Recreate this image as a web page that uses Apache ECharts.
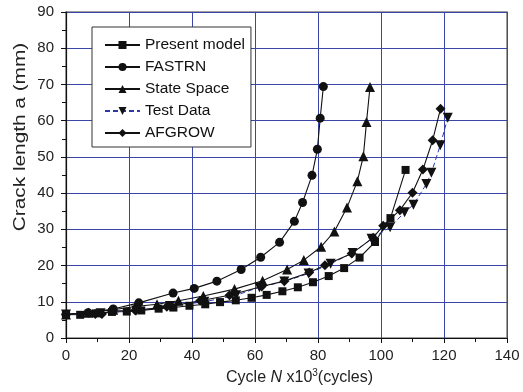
<!DOCTYPE html>
<html><head><meta charset="utf-8">
<script src="https://cdn.jsdelivr.net/npm/echarts@6/dist/echarts.min.js"></script>
<style>html,body{margin:0;padding:0;background:#fff}#c{width:523px;height:392px}</style>
</head><body><div id="c"></div>
<script>
const seriesNames = ['Present model','FASTRN','State Space','Test Data','AFGROW'];
const presentModel = [[0,6.5],[4.5,6.4],[9.5,6.8],[14.6,7.2],[19.3,7.3],[23.9,7.6],[29.4,8.1],[34.1,8.4],[39.2,8.9],[44.2,9.3],[48.9,9.9],[53.9,10.4],[58.9,11.1],[63.7,11.9],[68.7,12.9],[73.6,14.0],[78.4,15.4],[83.4,17.1],[88.3,19.3],[93.2,22.2],[98.1,26.5],[103.0,33.1],[107.8,46.4]];
const fastrn = [[0,6.5],[7,7.0],[15,8.0],[23.1,9.7],[34,12.4],[40.7,13.7],[47.9,15.7],[55.6,18.9],[61.8,22.3],[67.8,26.4],[72.5,32.2],[75.1,37.4],[78.1,44.9],[79.8,52.1],[80.7,60.7],[81.7,69.4]];
const stateSpace = [[0,6.5],[7,7.0],[15,7.8],[22,8.7],[28.9,9.3],[35.7,10.3],[43.6,11.6],[53.5,13.5],[62.4,15.8],[70.2,18.9],[75.5,21.5],[81,25.2],[85.2,29.4],[89.2,36.0],[92.5,43.3],[94.4,50.2],[95.4,59.6],[96.5,69.3]];
const testData = [[0,6.5],[11,6.8],[22.3,7.6],[33,8.8],[43.9,10.0],[54,11.8],[61.4,14.0],[69.3,15.6],[77,17.8],[84,20.5],[91,23.5],[97,27.4],[102.9,30.6],[107.5,34.7],[110.3,36.8],[114.4,42.5],[116,45.6],[118.8,53.2],[121.2,60.8]];
const afgrow = [[0,6.5],[7.2,7.0],[9.3,6.6],[11.4,6.6],[14.6,7.5],[22,7.6],[32,8.6],[42.6,10.3],[51.9,11.8],[62.1,14.2],[69.3,15.7],[77.2,18.1],[82.2,20.1],[90.7,23.3],[97.5,27.7],[100.7,31.0],[106,35.3],[110,40.1],[113.3,46.5],[116.4,54.6],[118.9,63.3]];
const xTicks = {min:0,max:140,interval:20};
const yTicks = {min:0,max:90,interval:10};
const yTitle = 'Crack length a (mm)';

const chart = echarts.init(document.getElementById('c'));
const font = 'Liberation Sans, Arial, sans-serif';
const blk = '#111';
function mk(name, data, symbol, size, extra){
  return Object.assign({
    name, type:'line', data, symbol, symbolSize:size,
    lineStyle:{color:blk,width:1.1},
    itemStyle:{color:blk},
    animation:false
  }, extra||{});
}
chart.setOption({
  animation:false,
  textStyle:{fontFamily:font},
  grid:{left:66,right:16,top:12,bottom:54,show:true,borderColor:'#808080',borderWidth:1.5,backgroundColor:'transparent'},
  legend:{
    orient:'vertical',left:92,top:27,
    padding:[10,6,6,12],itemGap:6,itemWidth:35,itemHeight:10,
    backgroundColor:'#fff',borderColor:'#333',borderWidth:1,
    textStyle:{fontSize:15.5,color:'#111',fontFamily:font},
    data:seriesNames
  },
  graphic:[{
    type:'text', x:21, y:137, rotation:Math.PI/2, scaleX:1.3,
    style:{text:yTitle, font:'16px Liberation Sans, Arial, sans-serif', fill:'#222', align:'center', verticalAlign:'middle'}
  }],
  xAxis:{
    type:'value',min:xTicks.min,max:xTicks.max,interval:xTicks.interval,
    axisLine:{lineStyle:{color:blk,width:1.2}},
    axisTick:{show:true,length:5,lineStyle:{color:blk}},
    minorTick:{show:true,splitNumber:2,length:4,lineStyle:{color:blk}},
    axisLabel:{fontSize:15,color:'#222',margin:10,fontFamily:font},
    splitLine:{show:true,lineStyle:{color:'#3a46a8',width:1}},
    name:'{a|Cycle }{i|N}{a| x10}{s|3}{a|(cycles)}',
    nameLocation:'middle',nameGap:29,
    nameTextStyle:{padding:[0,0,0,26],rich:{
      a:{fontSize:16,color:'#222',fontFamily:font},
      i:{fontSize:16,color:'#222',fontStyle:'italic',fontFamily:font},
      s:{fontSize:10,color:'#222',fontFamily:font,verticalAlign:'bottom',padding:[0,0,9,0]}
    }}
  },
  yAxis:{
    type:'value',min:yTicks.min,max:yTicks.max,interval:yTicks.interval,
    axisLine:{show:true,lineStyle:{color:blk,width:1.2}},
    axisTick:{show:true,length:5,lineStyle:{color:blk}},
    minorTick:{show:true,splitNumber:2,length:4,lineStyle:{color:blk}},
    axisLabel:{fontSize:15,color:'#222',margin:12,fontFamily:font},
    splitLine:{show:true,lineStyle:{color:'#3a46a8',width:1}}
  },
  series:[
    mk(seriesNames[0],presentModel,'rect',8),
    mk(seriesNames[1],fastrn,'circle',9),
    mk(seriesNames[2],stateSpace,'triangle',10),
    mk(seriesNames[3],testData,'path://M0,0 L10,0 L5,9 Z',10,{lineStyle:{color:'#2a3aa8',width:1,type:[5,3]}}),
    mk(seriesNames[4],afgrow,'diamond',10)
  ]
});
</script></body></html>
